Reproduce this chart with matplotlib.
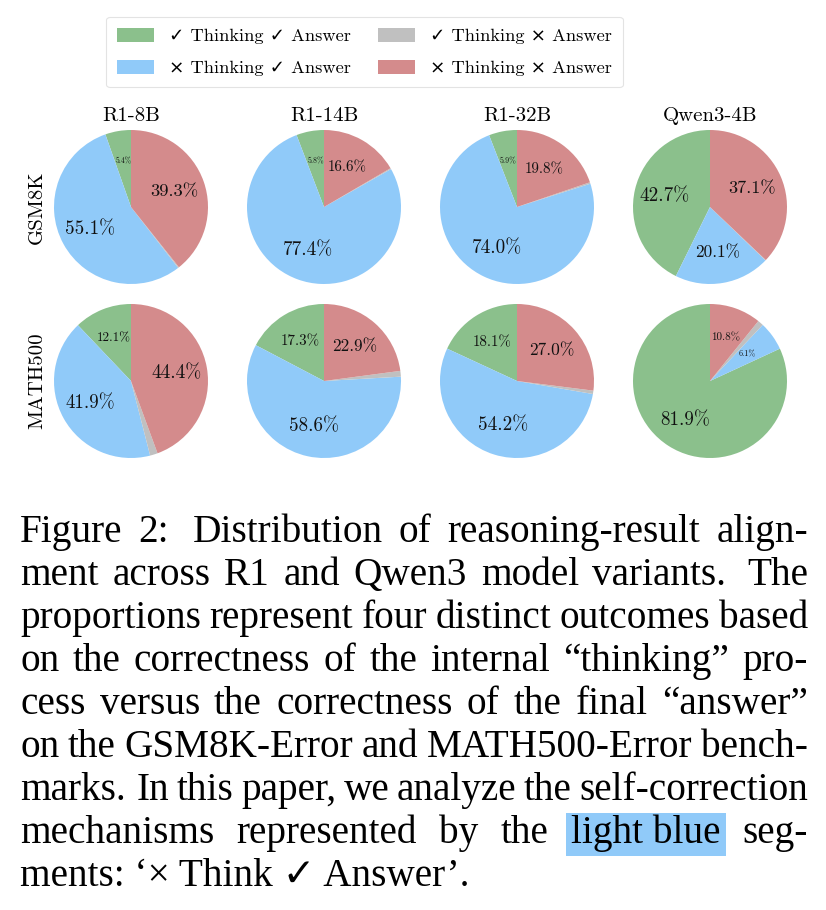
import matplotlib
matplotlib.use("Agg")
import matplotlib.pyplot as plt
from matplotlib.patches import Patch, Rectangle
import numpy as np

plt.rcParams['font.family'] = ['cmr10', 'DejaVu Sans']
plt.rcParams['axes.unicode_minus'] = False
plt.rcParams['mathtext.fontset'] = 'cm'

# ---------------- data ----------------
models = ["R1-8B", "R1-14B", "R1-32B", "Qwen3-4B"]
datasets = ["GSM8K", "MATH500"]
categories = ["\u2713 Thinking \u2713 Answer", "\u00d7 Thinking \u2713 Answer",
              "\u2713 Thinking \u00d7 Answer", "\u00d7 Thinking \u00d7 Answer"]

# order per model: R1-8B, R1-14B, R1-32B, Qwen3-4B
gsm8k_think_ok_ans_ok = [5.4, 5.8, 5.9, 42.7]
gsm8k_think_bad_ans_ok = [55.1, 77.4, 74.0, 20.1]
gsm8k_think_ok_ans_bad = [0.2, 0.2, 0.3, 0.1]
gsm8k_think_bad_ans_bad = [39.3, 16.6, 19.8, 37.1]

math500_think_ok_ans_ok = [12.1, 17.3, 18.1, 81.9]
math500_think_bad_ans_ok = [41.9, 58.6, 54.2, 6.1]
math500_think_ok_ans_bad = [1.6, 1.2, 0.7, 1.2]
math500_think_bad_ans_bad = [44.4, 22.9, 27.0, 10.8]

caption_lines = [
    "Figure 2:  Distribution of reasoning-result align-",
    "ment across R1 and Qwen3 model variants.  The",
    "proportions represent four distinct outcomes based",
    "on the correctness of the internal \u201cthinking\u201d pro-",
    "cess versus the correctness of the final \u201canswer\u201d",
    "on the GSM8K-Error and MATH500-Error bench-",
    "marks. In this paper, we analyze the self-correction",
    "mechanisms represented by the light_blue seg-",
    "ments: \u2018\u00d7 Think \u2713 Answer\u2019.",
]
highlight_word = "light_blue"

table = {
    "GSM8K": [gsm8k_think_ok_ans_ok, gsm8k_think_bad_ans_ok,
              gsm8k_think_ok_ans_bad, gsm8k_think_bad_ans_bad],
    "MATH500": [math500_think_ok_ans_ok, math500_think_bad_ans_ok,
                math500_think_ok_ans_bad, math500_think_bad_ans_bad],
}

# ---------------- style ----------------
colors = ["#8bc08c", "#90caf9", "#c0c0c0", "#d48b8c"]
W, H = 826, 910
fig = plt.figure(figsize=(W / 100, H / 100), dpi=100)


def fx(x):
    return x / W


def fy(y):
    return 1 - y / H


centers_x = [131, 324, 517, 710]
centers_y = [207, 381]
R = 77
lim = 1.2
side = 2 * R * lim

fs_pct = [5.4, 10.8, 12.1, 16.6, 19.9, 20.0, 30, 38, 43, 100]
fs_pt = [5.5, 8.0, 9.4, 10.8, 10.8, 12.4, 12.6, 13.2, 13.8, 13.8]

for i, ds in enumerate(datasets):
    for j, m in enumerate(models):
        cx, cy = centers_x[j], centers_y[i]
        ax = fig.add_axes([fx(cx - side / 2), fy(cy + side / 2), side / W, side / H])
        vals = [series[j] for series in table[ds]]
        wedges, texts, autotexts = ax.pie(
            vals, colors=colors, startangle=90, counterclock=True,
            autopct='%1.1f%%', pctdistance=0.6,
            wedgeprops=dict(linewidth=0))
        ax.set_xlim(-lim, lim)
        ax.set_ylim(-lim, lim)
        for k, t in enumerate(autotexts):
            if k == 2:
                t.set_text('')
            else:
                t.set_fontsize(float(np.interp(vals[k], fs_pct, fs_pt)))
                t.set_color('#111111')

for j, m in enumerate(models):
    fig.text(fx(centers_x[j]), fy(121), m, ha='center', va='baseline', fontsize=15)

for i, ds in enumerate(datasets):
    fig.text(fx(42), fy(centers_y[i]), ds, rotation=90, rotation_mode='anchor',
             ha='center', va='baseline', fontsize=15)

handles = [Patch(facecolor=c, edgecolor='none') for c in colors]
leg = fig.legend(handles, categories, loc='center', bbox_to_anchor=(fx(364.5), fy(52)),
                 ncol=2, fontsize=13.2, frameon=True, fancybox=True,
                 handlelength=2.0, handleheight=0.8, handletextpad=0.82,
                 columnspacing=1.5, labelspacing=0.85, borderpad=0.6)
leg.get_frame().set_edgecolor('#dddddd')
leg.get_frame().set_linewidth(0.8)

# ---------------- caption ----------------
renderer = fig.canvas.get_renderer()
left, right = 20, 808
baselines = [542, 585, 628, 671, 714, 757, 800, 843, 886]
cap_font = dict(fontsize=28.3, family=['Liberation Serif', 'DejaVu Sans'], color='black')

for li, (line, base) in enumerate(zip(caption_lines, baselines)):
    if li == len(caption_lines) - 1:
        fig.text(fx(left), fy(base), line, ha='left', va='baseline', **cap_font)
        continue
    words = [w for w in line.split(' ') if w]
    texts = [fig.text(0, fy(base), w.replace('_', ' '), ha='left', va='baseline',
                      zorder=3, **cap_font)
             for w in words]
    widths = [t.get_window_extent(renderer).width for t in texts]
    weights = [1.5 if w[-1] in ':.' else 1.0 for w in words[:-1]]
    unit = (right - left - sum(widths)) / sum(weights)
    x = left
    for k, (t, w, word) in enumerate(zip(texts, widths, words)):
        t.set_x(fx(x))
        if word == highlight_word:
            rect = Rectangle((fx(x - 5), fy(base + 13)), (w + 11) / W, 43 / H,
                             transform=fig.transFigure, facecolor='#90caf9',
                             edgecolor='none', zorder=1)
            fig.add_artist(rect)
        if k < len(weights):
            x += w + unit * weights[k]

fig.savefig('out.png', dpi=100)
